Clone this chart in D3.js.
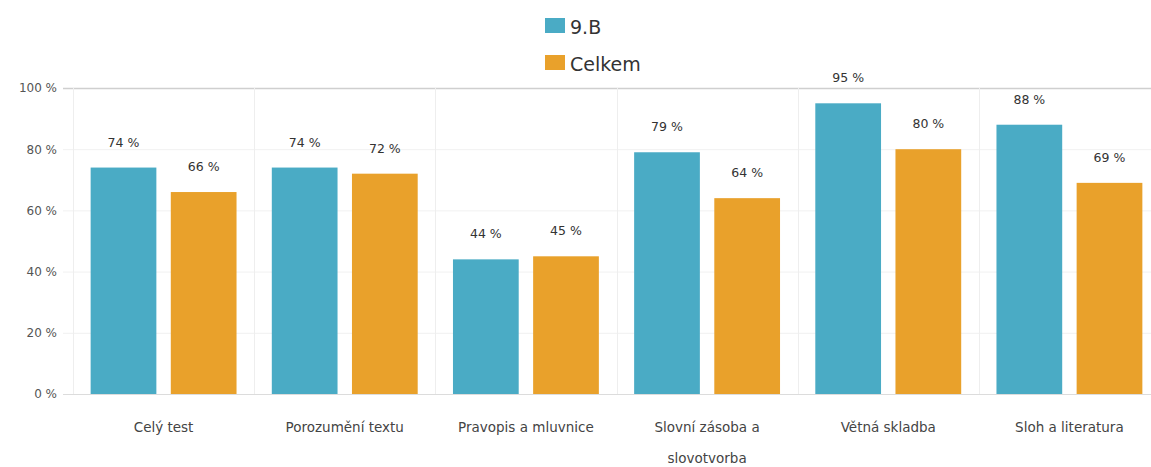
<!DOCTYPE html>
<html><head><meta charset="utf-8">
<script src="https://cdn.jsdelivr.net/npm/d3@7"></script>
<style>body{margin:0;background:#fff}svg{display:block}</style>
</head><body>
<svg id="c" width="1151" height="467"></svg>
<script>
const categories = ["Celý test","Porozumění textu","Pravopis a mluvnice","Slovní zásoba a slovotvorba","Větná skladba","Sloh a literatura"];
const seriesNames = ["9.B","Celkem"];
const values9B = [74,74,44,79,95,88];
const valuesCelkem = [66,72,45,64,80,69];
const yTicks = [0,20,40,60,80,100];
const colors = ["#4aabc5","#e9a12b"];

const svg = d3.select("#c");
const m = {left:73, right:1160, top:88, bottom:394};
const x0 = d3.scaleBand().domain(categories).range([m.left, m.right]).paddingInner(0).paddingOuter(0);
const x1 = d3.scaleBand().domain(seriesNames).range([0, x0.bandwidth()]).paddingInner(0.18).paddingOuter(0.22);
const y = d3.scaleLinear().domain([0,100]).range([m.bottom, m.top]);
const font = "'DejaVu Sans', Arial, sans-serif";

// horizontal gridlines
svg.append("g").selectAll("line").data(yTicks).join("line")
  .attr("x1", m.left-10).attr("x2", 1151)
  .attr("y1", d=>y(d)+0.5).attr("y2", d=>y(d)+0.5)
  .attr("stroke", d=> d===100 ? "#cfcfcf" : (d===0 ? "#dcdcdc" : "#f1f1f1"))
  .attr("stroke-width", d=> d===100 ? 1.5 : 1);
// vertical separators
svg.append("g").selectAll("line").data(categories).join("line")
  .attr("x1", d=>Math.round(x0(d))+0.5).attr("x2", d=>Math.round(x0(d))+0.5)
  .attr("y1", m.top).attr("y2", m.bottom)
  .attr("stroke", "#eeeeee");

// y axis labels
const yAxis = d3.axisLeft(y).tickValues(yTicks).tickFormat(d=>d+" %").tickSize(0).tickPadding(16);
const ya = svg.append("g").attr("transform",`translate(${m.left},0)`).call(yAxis);
ya.select(".domain").remove();
ya.selectAll("text").attr("font-family", font).attr("font-size", 12).attr("fill","#555");

const data = categories.map((c,i)=>({c, vals:[{s:"9.B",v:values9B[i]},{s:"Celkem",v:valuesCelkem[i]}]}));
const g = svg.append("g").selectAll("g").data(data).join("g")
  .attr("transform", d=>`translate(${x0(d.c)},0)`);
g.selectAll("rect").data(d=>d.vals).join("rect")
  .attr("x", d=>x1(d.s)).attr("width", x1.bandwidth())
  .attr("y", d=>y(d.v)).attr("height", d=>y(0)-y(d.v))
  .attr("fill", (d,i)=>colors[i]);
g.selectAll("text.v").data(d=>d.vals).join("text").attr("class","v")
  .attr("x", d=>x1(d.s)+x1.bandwidth()/2).attr("y", d=>y(d.v)-21)
  .attr("text-anchor","middle").attr("font-family", font).attr("font-size", 12.5)
  .attr("fill","#333").text(d=>d.v+" %");

// category labels (wrapped)
const wraps = {"Slovní zásoba a slovotvorba":["Slovní zásoba a","slovotvorba"]};
const cl = svg.append("g").selectAll("text").data(categories).join("text")
  .attr("x", d=>x0(d)+x0.bandwidth()/2).attr("y", 432)
  .attr("text-anchor","middle").attr("font-family", font).attr("font-size", 13.5)
  .attr("fill","#444");
cl.each(function(d){
  const lines = wraps[d] || [d];
  const t = d3.select(this);
  lines.forEach((l,i)=> t.append("tspan").attr("x", x0(d)+x0.bandwidth()/2).attr("dy", i===0?0:31).text(l));
});

// legend
const leg = svg.append("g").selectAll("g").data(seriesNames).join("g")
  .attr("transform",(d,i)=>`translate(545,${18+i*37})`);
leg.append("rect").attr("width",20).attr("height",15).attr("fill",(d,i)=>colors[i]);
leg.append("text").attr("x",25).attr("y",16).attr("font-family", font).attr("font-size",19)
  .attr("fill","#333").text(d=>d);
</script>
</body></html>
